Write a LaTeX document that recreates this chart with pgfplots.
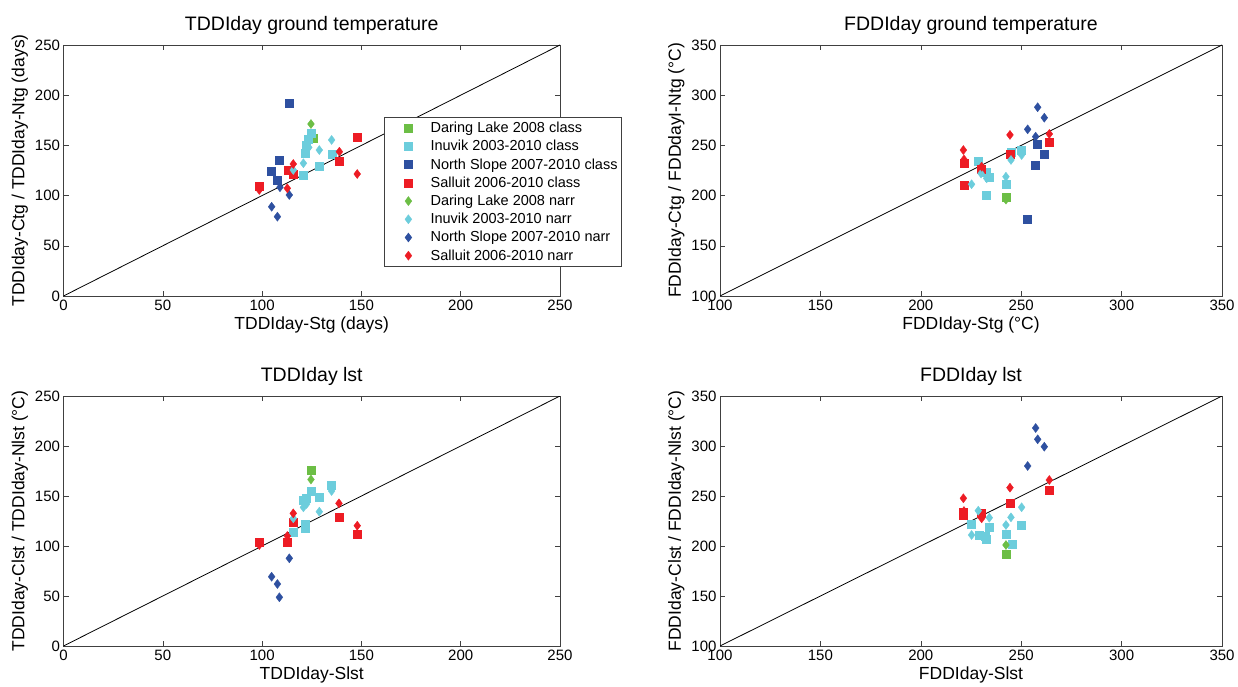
\documentclass[border=0pt]{standalone}
\usepackage{pgfplots}
\pgfplotsset{compat=1.18}
\usepackage{fontspec}
\setmainfont{Liberation Sans}
\definecolor{cDL}{RGB}{108,190,69}
\definecolor{cIN}{RGB}{108,205,220}
\definecolor{cNS}{RGB}{46,80,160}
\definecolor{cSA}{RGB}{237,28,36}
\pgfplotsset{
  myax/.style={
    scale only axis, tick align=inside, major tick length=5pt,
    axis line style={black!75}, every tick/.style={black!75, line width=0.5pt},
    tick label style={font=\fontsize{15}{18}\selectfont},
    label style={font=\fontsize{17.5}{20}\selectfont},
    title style={font=\fontsize{19.5}{22}\selectfont, yshift=1pt},
    /pgf/number format/assume math mode=true,
    xtick pos=both, ytick pos=both,
    minor tick num=0,
  },
  sq/.style={only marks, mark=square*, mark size=4pt, mark options={draw=#1, fill=#1}},
  di/.style={only marks, mark=diamond*, mark size=4.5pt, mark options={draw=#1, fill=#1}},
}
\begin{document}
\begin{tikzpicture}
\useasboundingbox (0,0) rectangle (1238pt,686pt);
% Panel 1
\begin{axis}[myax, at={(63.5pt,390pt)}, anchor=south west, width=496.5pt, height=251pt,
  xmin=0, xmax=250, ymin=0, ymax=250, xtick={0,50,...,250}, ytick={0,50,...,250},
  title={TDDIday ground temperature}, xlabel={TDDIday-Stg (days)}, ylabel={TDDIday-Ctg / TDDIday-Ntg (days)},
  legend style={at={(rel axis cs:0.6455,0.713)}, anchor=north west, draw=black!75,
    font=\fontsize{14.5}{17}\selectfont, row sep=2.2pt, inner xsep=2pt, inner ysep=3pt},
  legend image code/.code={\path (0pt,0pt) (42pt,0pt); \draw[#1] plot coordinates {(22pt,0pt)};},
  legend cell align=left]
\addplot[black, line width=0.8pt, forget plot] coordinates {(0,0) (250,250)};
\addplot[sq=cDL] coordinates {(125.5,157)};
\addplot[sq=cIN] coordinates {(124.6,162.6) (123.3,156) (122.1,150.4) (121.8,142.1) (135.2,141.4) (128.8,128.8) (120.8,120.5)};
\addplot[sq=cNS] coordinates {(113.7,191.9) (108.7,135.5) (104.8,124.5) (107.7,115.5)};
\addplot[sq=cSA] coordinates {(147.9,157.7) (138.9,133.8) (112.9,124.8) (115.7,121.5) (98.6,108.9)};
\addplot[di=cDL] coordinates {(124.6,171.3)};
\addplot[di=cIN] coordinates {(122.4,152) (135,155.4) (128.8,145.4) (120.8,132.2) (115.7,125.5) (123.5,148)};
\addplot[di=cNS] coordinates {(109,108.3) (113.7,100.6) (104.8,88.9) (107.7,79)};
\addplot[di=cSA] coordinates {(115.7,131.5) (138.9,143.7) (147.9,121.5) (112.7,107.3) (98.6,105.6)};
\legend{Daring Lake 2008 class, Inuvik 2003-2010 class, North Slope 2007-2010 class, Salluit 2006-2010 class,
  Daring Lake 2008 narr, Inuvik 2003-2010 narr, North Slope 2007-2010 narr, Salluit 2006-2010 narr}
\end{axis}
% Panel 2
\begin{axis}[myax, at={(720pt,390pt)}, anchor=south west, width=502pt, height=251pt,
  xmin=100, xmax=350, ymin=100, ymax=350, xtick={100,150,...,350}, ytick={100,150,...,350},
  title={FDDIday ground temperature}, xlabel={FDDIday-Stg (°C)}, ylabel={FDDIday-Ctg / FDDdayI-Ntg (°C)}]
\addplot[black, line width=0.8pt] coordinates {(100,100) (350,350)};
\addplot[sq=cDL] coordinates {(242.4,198.9)};
\addplot[sq=cIN] coordinates {(228.6,234.5) (244.9,243.7) (250.2,245.4) (232.8,223.8) (234.1,218.8) (242.4,211.3) (232.5,200.6)};
\addplot[sq=cNS] coordinates {(258.2,251.1) (261.5,241.4) (257.2,230.5) (253.2,176.7)};
\addplot[sq=cSA] coordinates {(264,253) (244.4,241.1) (221.5,232.2) (230.3,226.5) (221.5,210.6)};
\addplot[di=cDL] coordinates {(242.4,196)};
\addplot[di=cIN] coordinates {(225.3,211.3) (242.4,218.8) (244.9,235.5) (250.2,240.4) (232.8,217.2) (230,222)};
\addplot[di=cNS] coordinates {(258.2,288) (261.5,277.6) (253.2,266) (257.2,258.7)};
\addplot[di=cSA] coordinates {(264,261.4) (244.4,260.4) (221.2,245.4) (230.3,228.8) (221.5,236)};
\end{axis}
% Panel 3
\begin{axis}[myax, at={(63.5pt,40pt)}, anchor=south west, width=496.5pt, height=250pt,
  xmin=0, xmax=250, ymin=0, ymax=250, xtick={0,50,...,250}, ytick={0,50,...,250},
  title={TDDIday lst}, xlabel={TDDIday-Slst}, ylabel={TDDIday-Clst / TDDIday-Nlst (°C)}]
\addplot[black, line width=0.8pt] coordinates {(0,0) (250,250)};
\addplot[sq=cDL] coordinates {(124.6,175.5)};
\addplot[sq=cIN] coordinates {(135,161) (124.6,155) (122.4,147.7) (120.8,146) (128.8,149.3) (121.5,117.7) (115.7,114.3) (121.5,122)};
\addplot[sq=cSA] coordinates {(115.7,124.3) (138.7,129.3) (147.9,111.7) (112.7,103.7) (98.6,104.3)};
\addplot[di=cDL] coordinates {(124.6,166.5)};
\addplot[di=cIN] coordinates {(135,155) (120.8,138.7) (128.8,134.3) (115.7,127.7) (122.4,142)};
\addplot[di=cNS] coordinates {(113.7,87.7) (104.8,69.3) (107.7,62) (108.7,48.7)};
\addplot[di=cSA] coordinates {(115.7,132.7) (138.7,142.7) (147.9,120.3) (112.7,110) (98.6,101)};
\end{axis}
% Panel 4
\begin{axis}[myax, at={(720pt,40pt)}, anchor=south west, width=502pt, height=250pt,
  xmin=100, xmax=350, ymin=100, ymax=350, xtick={100,150,...,350}, ytick={100,150,...,350},
  title={FDDIday lst}, xlabel={FDDIday-Slst}, ylabel={FDDIday-Clst / FDDIday-Nlst (°C)}]
\addplot[black, line width=0.8pt] coordinates {(100,100) (350,350)};
\addplot[sq=cDL] coordinates {(242.4,192)};
\addplot[sq=cIN] coordinates {(225.3,221.7) (234.1,219.3) (250.2,221) (242.4,212) (232,210) (232.5,207) (245.3,201.7) (229.1,211)};
\addplot[sq=cSA] coordinates {(264,256) (244.4,242.7) (221.2,234.3) (221.2,231) (230.3,232.7)};
\addplot[di=cDL] coordinates {(242.4,201)};
\addplot[di=cIN] coordinates {(228.6,235.3) (234.1,228.3) (244.9,228.7) (250.2,238.7) (242.4,221) (225.3,211)};
\addplot[di=cNS] coordinates {(257.2,318) (258.2,306.7) (261.5,299.3) (253.2,280)};
\addplot[di=cSA] coordinates {(264,266) (244.4,258.3) (221.2,247.7) (230.3,227.7) (221.5,235)};
\end{axis}
\end{tikzpicture}
\end{document}
